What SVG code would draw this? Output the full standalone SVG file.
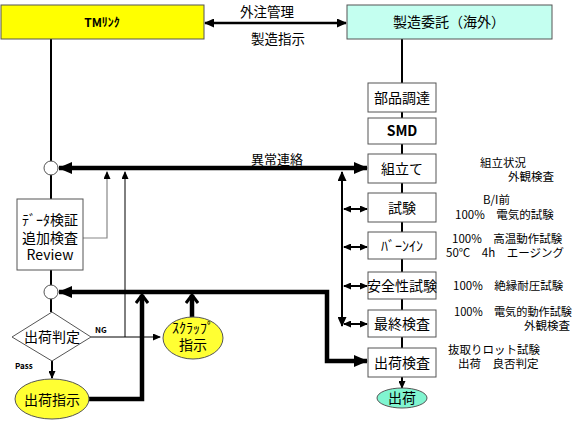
<svg xmlns="http://www.w3.org/2000/svg" width="577" height="421" viewBox="0 0 577 421">
<style>
text{font-family:"Noto Sans CJK JP","DejaVu Sans",sans-serif;fill:#000}
.box{fill:#fff;stroke:#555;stroke-width:1}
.bt{font-size:14px;text-anchor:middle}
.nt{font-size:11.5px}
.thick{stroke:#000;stroke-width:4.5;fill:none}
.mid{stroke:#000;stroke-width:2;fill:none}
.thin{stroke:#000;stroke-width:1;fill:none}
</style>
<defs>
<marker id="big" markerUnits="userSpaceOnUse" markerWidth="14" markerHeight="12" refX="13" refY="6" orient="auto-start-reverse"><path d="M0,0 L14,6 L0,12 Z" fill="#000"/></marker>
<marker id="med" markerUnits="userSpaceOnUse" markerWidth="10" markerHeight="9" refX="9" refY="4.5" orient="auto-start-reverse"><path d="M0,0 L10,4.5 L0,9 Z" fill="#000"/></marker>
<marker id="sm" markerUnits="userSpaceOnUse" markerWidth="8" markerHeight="7" refX="7" refY="3.5" orient="auto-start-reverse"><path d="M0,0 L8,3.5 L0,7 Z" fill="#000"/></marker>
<marker id="smg" markerUnits="userSpaceOnUse" markerWidth="8" markerHeight="7" refX="7" refY="3.5" orient="auto"><path d="M0,0 L8,3.5 L0,7 Z" fill="#000"/></marker>
<marker id="chev" markerUnits="userSpaceOnUse" markerWidth="14" markerHeight="14" refX="10" refY="7" orient="auto"><path d="M2,1 L10,7 L2,13" fill="none" stroke="#000" stroke-width="3"/></marker>
</defs>

<g id="connectors">
<line x1="51" y1="39" x2="51" y2="312" class="mid"/>
<line x1="402" y1="39" x2="402" y2="348" class="mid"/>
<line x1="205" y1="23" x2="346" y2="23" stroke="#000" stroke-width="2.5" marker-start="url(#med)" marker-end="url(#med)"/>
<line x1="59" y1="168" x2="367" y2="168" class="thick" marker-start="url(#big)" marker-end="url(#big)"/>
<line x1="342" y1="172" x2="342" y2="326" class="mid" stroke-width="3" marker-start="url(#med)" marker-end="url(#med)"/>
<line x1="344" y1="209" x2="367" y2="209" class="mid" marker-start="url(#sm)" marker-end="url(#sm)"/>
<line x1="344" y1="247" x2="367" y2="247" class="mid" marker-start="url(#sm)" marker-end="url(#sm)"/>
<line x1="344" y1="286" x2="367" y2="286" class="mid" marker-start="url(#sm)" marker-end="url(#sm)"/>
<line x1="344" y1="324" x2="367" y2="324" class="mid" marker-start="url(#sm)" marker-end="url(#sm)"/>
<path d="M367,361 L327,361 L327,292 L59,292" class="thick" marker-start="url(#big)" marker-end="url(#big)"/>
<path d="M83,238 L107,238 L107,172" stroke="#888" stroke-width="1.2" fill="none" marker-end="url(#smg)"/>
<path d="M125,337 L125,172" class="thin" marker-end="url(#smg)"/>
<path d="M91,337 L160,337" class="thin" marker-end="url(#smg)"/>
<line x1="52" y1="361" x2="52" y2="378" class="mid" stroke-width="1.5" marker-end="url(#sm)"/>
<path d="M89,399 L142,399 L142,295" class="thick" marker-end="url(#chev)"/>
<line x1="192" y1="317" x2="192" y2="295" class="thick" marker-end="url(#chev)"/>
<line x1="402" y1="377" x2="402" y2="388" class="mid" stroke-width="1.5" marker-end="url(#sm)"/>
<text x="277" y="164" font-size="13" text-anchor="middle">異常連絡</text>
<text x="267" y="17" font-size="13.5" text-anchor="middle">外注管理</text>
<text x="278" y="44" font-size="13.5" text-anchor="middle">製造指示</text>
<text x="95" y="333" font-size="8" font-weight="bold">NG</text>
<text x="15" y="369" font-size="8" font-weight="bold">Pass</text>
</g>

<g id="tm">
<rect x="1" y="5" width="203" height="34" fill="#ffff00" stroke="#555"/>
<text x="102" y="27" font-size="12" font-weight="bold" text-anchor="middle">TMﾘﾝｸ</text>
</g>
<g id="itaku">
<rect x="347" y="5" width="205" height="34" fill="#c4fff0" stroke="#555"/>
<text x="449" y="27" font-size="14" text-anchor="middle">製造委託（海外）</text>
</g>
<g id="buhin"><rect x="368" y="83" width="68" height="29" class="box"/><text x="402" y="103" class="bt">部品調達</text></g>
<g id="smd"><rect x="368" y="118" width="68" height="26" class="box"/><text x="402" y="136" class="bt" font-size="11" font-weight="bold">SMD</text></g>
<g id="kumitate"><rect x="368" y="154" width="68" height="29" class="box"/><text x="402" y="174" class="bt">組立て</text></g>
<g id="shiken"><rect x="368" y="193" width="68" height="29" class="box"/><text x="402" y="213" class="bt">試験</text></g>
<g id="burnin"><rect x="368" y="232" width="68" height="27" class="box"/><text x="402" y="251" class="bt" font-size="12">ﾊﾞｰﾝｲﾝ</text></g>
<g id="anzen"><rect x="368" y="272" width="68" height="27" class="box"/><text x="402" y="291" class="bt" font-size="14.5">安全性試験</text></g>
<g id="saishu"><rect x="368" y="310" width="68" height="27" class="box"/><text x="402" y="329" class="bt">最終検査</text></g>
<g id="shukkakensa"><rect x="368" y="348" width="68" height="29" class="box"/><text x="402" y="368" class="bt">出荷検査</text></g>
<g id="shukka"><ellipse cx="402" cy="398" rx="25" ry="10" fill="#80f5d0" stroke="#555"/><text x="402" y="403" class="bt">出荷</text></g>

<g id="circle1"><circle cx="51" cy="168" r="7" fill="#fff" stroke="#555"/></g>
<g id="circle2"><circle cx="51" cy="292" r="7" fill="#fff" stroke="#555"/></g>
<g id="data">
<rect x="17" y="199" width="66" height="71" class="box"/>
<text x="50" y="225" class="bt">ﾃﾞｰﾀ検証</text>
<text x="50" y="243" class="bt">追加検査</text>
<text x="50" y="260" class="bt" font-size="12">Review</text>
</g>
<g id="hantei">
<polygon points="52,312 91,337 52,361 12,337" fill="#fff" stroke="#555"/>
<text x="52" y="342" class="bt">出荷判定</text>
</g>
<g id="scrap">
<ellipse cx="193" cy="338" rx="30" ry="21" fill="#ffff33" stroke="#555"/>
<text x="193" y="333" class="bt" font-size="12">ｽｸﾗｯﾌﾟ</text>
<text x="193" y="350" class="bt" font-size="14">指示</text>
</g>
<g id="shukkashiji">
<ellipse cx="52" cy="399" rx="37" ry="20" fill="#ffff33" stroke="#555"/>
<text x="52" y="405" class="bt" font-size="15">出荷指示</text>
</g>

<g id="notes">
<text x="480" y="167" class="nt">組立状況</text>
<text x="508" y="181" class="nt">外観検査</text>
<text x="483" y="204" class="nt">B/I前</text>
<text x="455" y="219" class="nt">100%　電気的試験</text>
<text x="452" y="243" class="nt">100%　高温動作試験</text>
<text x="446" y="257" class="nt">50℃　4h　エージング</text>
<text x="453" y="290" class="nt">100%　絶縁耐圧試験</text>
<text x="454" y="316" class="nt" textLength="118" lengthAdjust="spacingAndGlyphs">100%　電気的動作試験</text>
<text x="524" y="330" class="nt">外観検査</text>
<text x="448" y="354" class="nt">抜取りロット試験</text>
<text x="458" y="368" class="nt">出荷　良否判定</text>
</g>
</svg>
